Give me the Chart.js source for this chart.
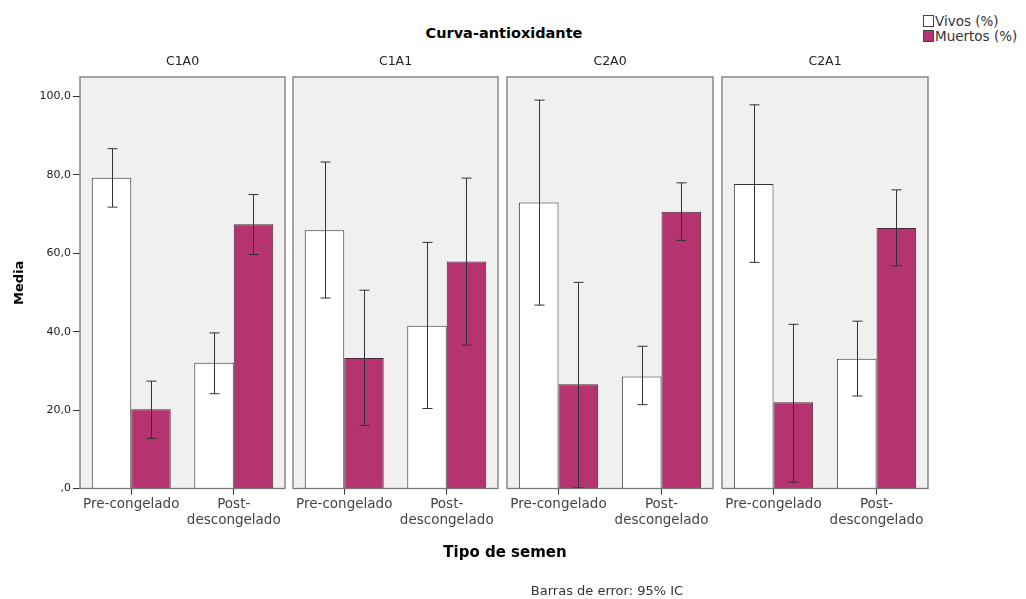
<!DOCTYPE html>
<html>
<head>
<meta charset="utf-8">
<script src="https://cdn.jsdelivr.net/npm/chart.js@4.4.0/dist/chart.umd.min.js"></script>
<style>
body { margin: 0; background: #fff; font-family: "DejaVu Sans", sans-serif; }
#wrap { position: relative; width: 1026px; height: 599px; overflow: hidden; background: #fff; }
canvas { position: absolute; }
.txt { position: absolute; white-space: nowrap; transform: translate(-50%, -50%); color: #000; }
#titulo { left: 504px; top: 33px; font: bold 14.5px "DejaVu Sans", sans-serif; }
#ejeX { left: 505px; top: 552px; font: bold 15px "DejaVu Sans", sans-serif; }
#nota { left: 607px; top: 590px; font: 13px "DejaVu Sans", sans-serif; color: #333; }
.ley { position: absolute; left: 923px; font: 13.5px "DejaVu Sans", sans-serif; color: #333; height: 14px; line-height: 14px; }
.ley span { display: inline-block; width: 9px; height: 10px; border: 1px solid #444; vertical-align: -1px; margin-right: 1px; }
</style>
</head>
<body>
<div id="wrap">
  <div class="txt" id="titulo">Curva-antioxidante</div>
  <div class="ley" style="top:14px"><span style="background:#fff"></span>Vivos (%)</div>
  <div class="ley" style="top:29px"><span style="background:#b5336e"></span>Muertos (%)</div>
  <canvas id="p0" width="287" height="510" style="left:0px;top:40px"></canvas>
  <canvas id="p1" width="209" height="510" style="left:291px;top:40px"></canvas>
  <canvas id="p2" width="210" height="510" style="left:505px;top:40px"></canvas>
  <canvas id="p3" width="210" height="510" style="left:720px;top:40px"></canvas>
  <div class="txt" id="ejeX">Tipo de semen</div>
  <div class="txt" id="nota">Barras de error: 95% IC</div>
</div>
<script>
// datos (2 valores por panel: Pre-congelado, Post-descongelado)
const paneles = ['C1A0', 'C1A1', 'C2A0', 'C2A1'];
const tipos = ['Pre-congelado', ['Post-', 'descongelado']];
const vivos = [79.3, 32.1, 65.9, 41.5, 73.0, 28.6, 77.7, 33.1];
const vivosInf = [71.8, 24.2, 48.6, 20.4, 46.8, 21.4, 57.7, 23.6];
const vivosSup = [86.7, 39.7, 83.3, 62.8, 99.1, 36.3, 97.9, 42.7];
const muertos = [20.2, 67.4, 33.3, 57.9, 26.6, 70.6, 22.0, 66.5];
const muertosInf = [12.8, 59.7, 16.1, 36.6, 0.2, 63.3, 1.6, 56.8];
const muertosSup = [27.4, 75.0, 50.6, 79.2, 52.6, 78.0, 41.9, 76.2];
const yTicks = [0, 20, 40, 60, 80, 100];

const colorMuertos = '#b5336e';
const fuente = '"DejaVu Sans", sans-serif';

// fondo gris, barras de error, borde y nombre del panel
const panelPlugin = {
    id: 'panel',
    beforeDraw(chart) {
        const a = chart.chartArea, ctx = chart.ctx;
        ctx.save();
        ctx.fillStyle = '#f0f0f0';
        ctx.fillRect(a.left, a.top, a.right - a.left, a.bottom - a.top);
        ctx.restore();
    },
    afterDatasetsDraw(chart) {
        const ctx = chart.ctx, y = chart.scales.y;
        ctx.save();
        ctx.strokeStyle = '#333';
        ctx.lineWidth = 1;
        chart.data.datasets.forEach((ds, i) => {
            chart.getDatasetMeta(i).data.forEach((bar, j) => {
                const x = Math.round(bar.x) + 0.5;
                const y1 = y.getPixelForValue(ds.errInf[j]);
                const y2 = y.getPixelForValue(ds.errSup[j]);
                ctx.beginPath();
                ctx.moveTo(x, y1); ctx.lineTo(x, y2);
                ctx.moveTo(x - 5, y1); ctx.lineTo(x + 5, y1);
                ctx.moveTo(x - 5, y2); ctx.lineTo(x + 5, y2);
                ctx.stroke();
            });
        });
        const a = chart.chartArea;
        ctx.strokeStyle = '#777';
        ctx.lineWidth = 1.3;
        ctx.strokeRect(a.left, a.top, a.right - a.left, a.bottom - a.top);
        ctx.restore();
    },
    afterDraw(chart) {
        const a = chart.chartArea, ctx = chart.ctx;
        ctx.save();
        ctx.fillStyle = '#222';
        ctx.font = '12.5px ' + fuente;
        ctx.textAlign = 'center';
        ctx.textBaseline = 'middle';
        ctx.fillText(chart.options.panelNombre, (a.left + a.right) / 2, a.top - 15);
        ctx.restore();
    }
};

function formato(v) {
    return v === 0 ? ',0' : v.toFixed(1).replace('.', ',');
}

function crearPanel(k) {
    const primero = k === 0;
    const ctx = document.getElementById('p' + k).getContext('2d');
    const i0 = k * 2;
    return new Chart(ctx, {
        type: 'bar',
        data: {
            labels: tipos,
            datasets: [{
                label: 'Vivos (%)',
                data: vivos.slice(i0, i0 + 2),
                errInf: vivosInf.slice(i0, i0 + 2),
                errSup: vivosSup.slice(i0, i0 + 2),
                backgroundColor: '#ffffff',
                borderColor: '#333',
                borderWidth: 1
            }, {
                label: 'Muertos (%)',
                data: muertos.slice(i0, i0 + 2),
                errInf: muertosInf.slice(i0, i0 + 2),
                errSup: muertosSup.slice(i0, i0 + 2),
                backgroundColor: colorMuertos,
                borderColor: '#4a2a38',
                borderWidth: 1
            }]
        },
        plugins: [panelPlugin],
        options: {
            panelNombre: paneles[k],
            responsive: false,
            animation: false,
            categoryPercentage: 0.77,
            barPercentage: 1.0,
            layout: { padding: { top: 37, left: primero ? 0 : 2, right: 2, bottom: 0 } },
            plugins: {
                legend: { display: false },
                tooltip: { enabled: false }
            },
            scales: {
                x: {
                    grid: { display: true, offset: false, drawOnChartArea: false, drawTicks: true, tickLength: 6, color: '#333' },
                    border: { display: false },
                    ticks: { font: { family: fuente, size: 13.5 }, color: '#444', padding: 2, maxRotation: 0, autoSkip: false },
                    afterFit(scale) { scale.height = 61.5; }
                },
                y: {
                    display: primero,
                    min: 0,
                    max: 105,
                    grid: { display: true, drawOnChartArea: false, drawTicks: true, tickLength: 7, color: '#333' },
                    border: { display: false },
                    ticks: { font: { family: fuente, size: 11 }, color: '#222', padding: 2, callback: formato },
                    title: { display: primero, text: 'Media', font: { family: fuente, size: 13, weight: 'bold' }, color: '#000', padding: { top: 12, bottom: 0 } },
                    afterBuildTicks(scale) { scale.ticks = yTicks.map(v => ({ value: v })); },
                    afterFit(scale) { if (primero) scale.width = 80; }
                }
            }
        }
    });
}

window.onload = function () {
    for (let k = 0; k < paneles.length; k++) crearPanel(k);
};
</script>
</body>
</html>
